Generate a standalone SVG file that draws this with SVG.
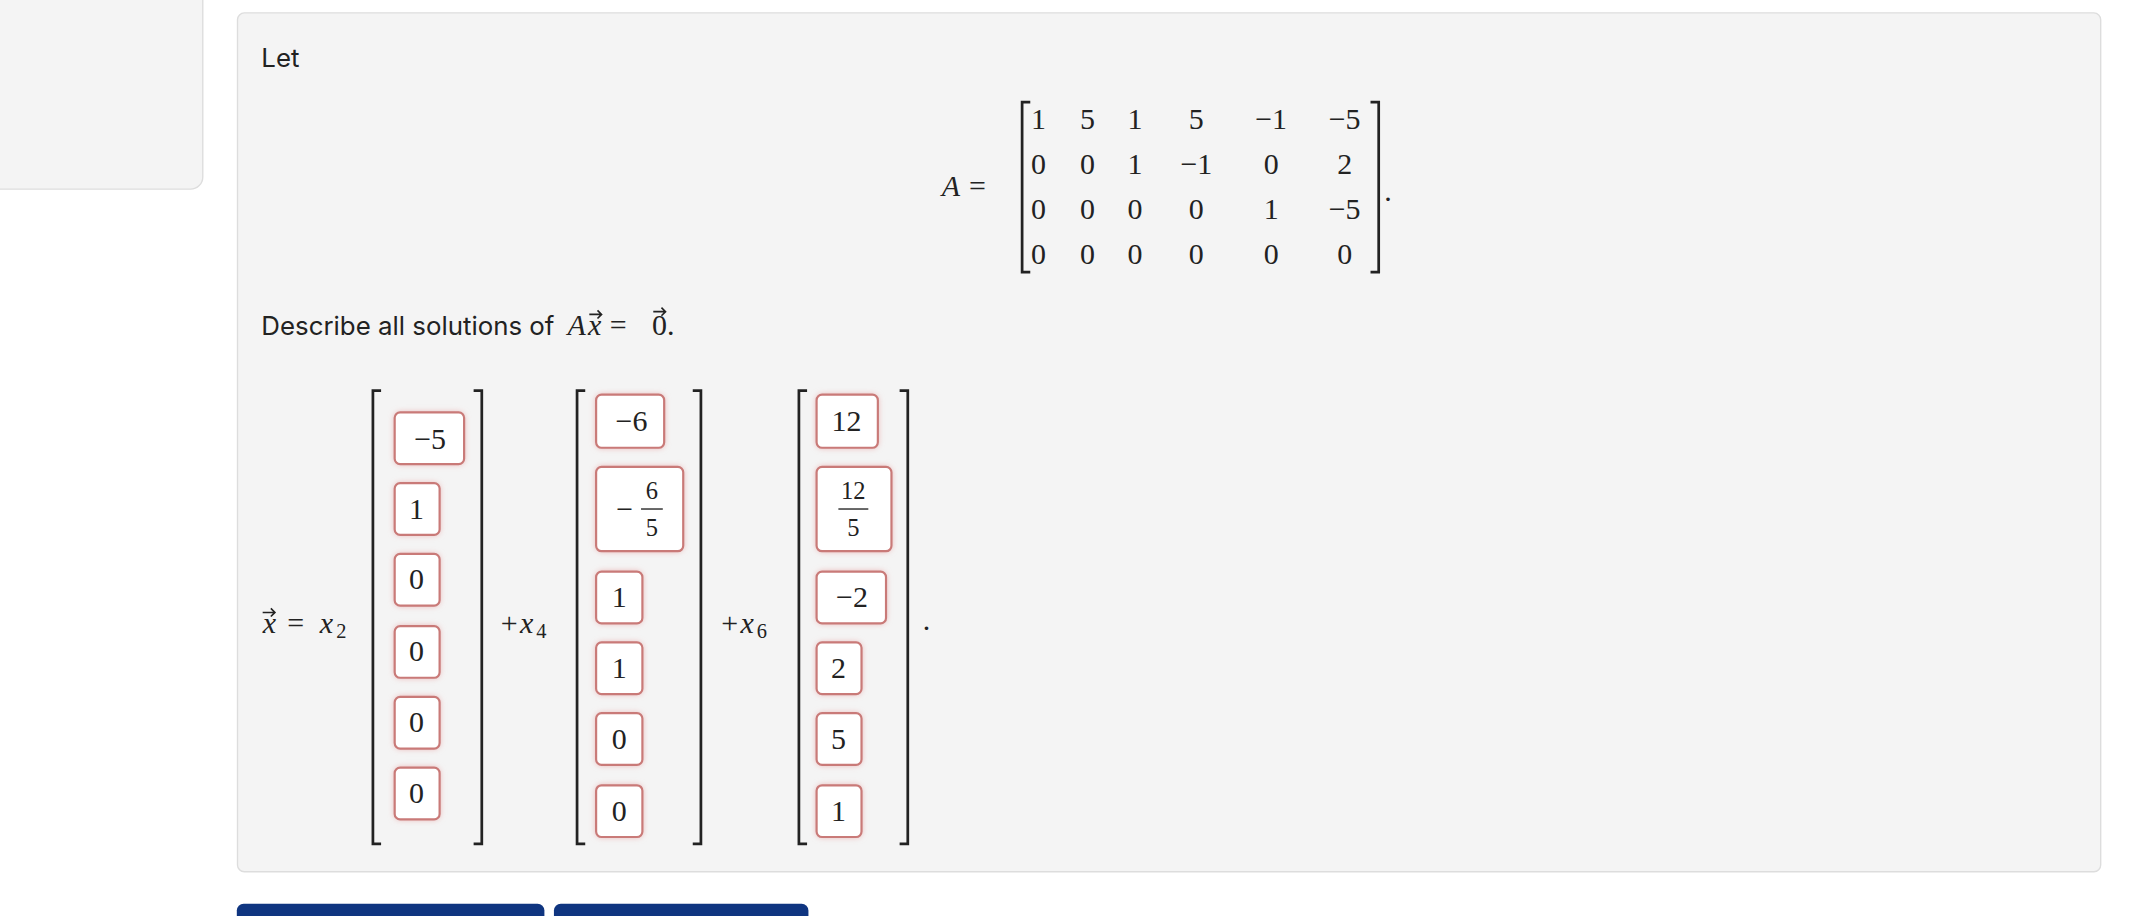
<svg xmlns="http://www.w3.org/2000/svg" width="2134" height="916" viewBox="0 0 2134 916">
<defs>
<style>
.ui{font-family:"Inter","Liberation Sans",sans-serif;font-size:19px;fill:#222}
.m{font-family:"Liberation Serif",serif;font-size:22px;fill:#222}
.i{font-style:italic}
.c{text-anchor:middle}
.br{fill:none;stroke:#222;stroke-width:2}
.bx{fill:#fff;stroke:#c97a78;stroke-width:1.6}
.ar{stroke:#222;stroke-width:1.2;fill:none}
</style>
<filter id="glow" x="-30%" y="-30%" width="160%" height="160%"><feGaussianBlur stdDeviation="2.5"/></filter>
</defs>
<rect width="2134" height="916" fill="#fff"/>
<g transform="scale(1.361)">
<rect x="-10" y="-10" width="159" height="149" rx="9" fill="#f4f4f4" stroke="#ddd"/>
<rect x="174.5" y="9.5" width="1369" height="631" rx="5" fill="#f4f4f4" stroke="#ddd"/>
<rect x="174" y="664" width="226" height="20" rx="5" fill="#0f3580"/>
<rect x="407" y="664" width="187" height="20" rx="5" fill="#0f3580"/>
<text class="ui" x="192" y="49">Let</text>
<g id="matrixA">
<text class="m i" x="692" y="144">A</text><text class="m" x="712" y="144">=</text>
<path class="br" d="M757,75 h-6 v125 h6 M1007,75 h6 v125 h-6"/>
<g class="m c">
<text x="763" y="95">1</text><text x="799" y="95">5</text><text x="834" y="95">1</text><text x="879" y="95">5</text><text x="934" y="95">−1</text><text x="988" y="95">−5</text>
<text x="763" y="128">0</text><text x="799" y="128">0</text><text x="834" y="128">1</text><text x="879" y="128">−1</text><text x="934" y="128">0</text><text x="988" y="128">2</text>
<text x="763" y="161">0</text><text x="799" y="161">0</text><text x="834" y="161">0</text><text x="879" y="161">0</text><text x="934" y="161">1</text><text x="988" y="161">−5</text>
<text x="763" y="194">0</text><text x="799" y="194">0</text><text x="834" y="194">0</text><text x="879" y="194">0</text><text x="934" y="194">0</text><text x="988" y="194">0</text>
</g>
<text class="m" x="1017" y="148">.</text>
</g>
<g id="describe">
<text class="ui" x="192" y="246">Describe all solutions of</text>
<text class="m i" x="417" y="246">A</text><text class="m i" x="432" y="246">x</text>
<text class="m" x="448" y="246">=</text><text class="m" x="479" y="246">0.</text>
<path class="ar" d="M433,231 h9 M439,228 l3,3 -3,3 M480,229 h9 M486,226 l3,3 -3,3"/>
</g>
<g id="eq" class="m">
<text class="i" x="193" y="465">x</text><path class="ar" d="M193,450 h9 M199,447 l3,3 -3,3"/>
<text x="211" y="465">=</text><text class="i" x="235" y="465">x</text><text x="247" y="469" font-size="15">2</text>
<text x="368" y="465">+</text><text class="i" x="382" y="465">x</text><text x="394" y="469" font-size="15">4</text>
<text x="530" y="465">+</text><text class="i" x="544" y="465">x</text><text x="556" y="469" font-size="15">6</text>
<text x="678" y="463">.</text>
</g>
<g id="v1">
<path class="br" d="M280,287 h-6 v333 h6 M348,287 h6 v333 h-6"/>
<g filter="url(#glow)" fill="#e8a8a8"><rect x="290" y="303" width="51" height="38" rx="4"/><rect x="290" y="355" width="33" height="38" rx="4"/><rect x="290" y="407" width="33" height="38" rx="4"/><rect x="290" y="460" width="33" height="38" rx="4"/><rect x="290" y="512" width="33" height="38" rx="4"/><rect x="290" y="564" width="33" height="38" rx="4"/></g>
<rect class="bx" x="290" y="303" width="51" height="38" rx="4"/><rect class="bx" x="290" y="355" width="33" height="38" rx="4"/><rect class="bx" x="290" y="407" width="33" height="38" rx="4"/><rect class="bx" x="290" y="460" width="33" height="38" rx="4"/><rect class="bx" x="290" y="512" width="33" height="38" rx="4"/><rect class="bx" x="290" y="564" width="33" height="38" rx="4"/>
<g class="m c"><text x="316" y="330">−5</text><text x="306" y="381">1</text><text x="306" y="433">0</text><text x="306" y="486">0</text><text x="306" y="538">0</text><text x="306" y="590">0</text></g>
</g>
<g id="v2">
<path class="br" d="M430,287 h-6 v333 h6 M509,287 h6 v333 h-6"/>
<g filter="url(#glow)" fill="#e8a8a8"><rect x="438" y="290" width="50" height="39" rx="4"/><rect x="438" y="343" width="64" height="62" rx="4"/><rect x="438" y="420" width="34" height="38" rx="4"/><rect x="438" y="472" width="34" height="38" rx="4"/><rect x="438" y="524" width="34" height="38" rx="4"/><rect x="438" y="577" width="34" height="38" rx="4"/></g>
<rect class="bx" x="438" y="290" width="50" height="39" rx="4"/><rect class="bx" x="438" y="343" width="64" height="62" rx="4"/><rect class="bx" x="438" y="420" width="34" height="38" rx="4"/><rect class="bx" x="438" y="472" width="34" height="38" rx="4"/><rect class="bx" x="438" y="524" width="34" height="38" rx="4"/><rect class="bx" x="438" y="577" width="34" height="38" rx="4"/>
<g class="m c"><text x="464" y="317">−6</text><text x="459" y="381">−</text><text x="479" y="367" font-size="18">6</text><path d="M471,374 h16" stroke="#222" stroke-width="1"/><text x="479" y="394" font-size="18">5</text><text x="455" y="446">1</text><text x="455" y="498">1</text><text x="455" y="550">0</text><text x="455" y="603">0</text></g>
</g>
<g id="v3">
<path class="br" d="M593,287 h-6 v333 h6 M661,287 h6 v333 h-6"/>
<g filter="url(#glow)" fill="#e8a8a8"><rect x="600" y="290" width="45" height="39" rx="4"/><rect x="600" y="343" width="55" height="62" rx="4"/><rect x="600" y="420" width="51" height="38" rx="4"/><rect x="600" y="472" width="33" height="38" rx="4"/><rect x="600" y="524" width="33" height="38" rx="4"/><rect x="600" y="577" width="33" height="38" rx="4"/></g>
<rect class="bx" x="600" y="290" width="45" height="39" rx="4"/><rect class="bx" x="600" y="343" width="55" height="62" rx="4"/><rect class="bx" x="600" y="420" width="51" height="38" rx="4"/><rect class="bx" x="600" y="472" width="33" height="38" rx="4"/><rect class="bx" x="600" y="524" width="33" height="38" rx="4"/><rect class="bx" x="600" y="577" width="33" height="38" rx="4"/>
<g class="m c"><text x="622" y="317">12</text><text x="627" y="367" font-size="18">12</text><path d="M616,374 h22" stroke="#222" stroke-width="1"/><text x="627" y="394" font-size="18">5</text><text x="626" y="446">−2</text><text x="616" y="498">2</text><text x="616" y="550">5</text><text x="616" y="603">1</text></g>
</g>
</g>
</svg>
